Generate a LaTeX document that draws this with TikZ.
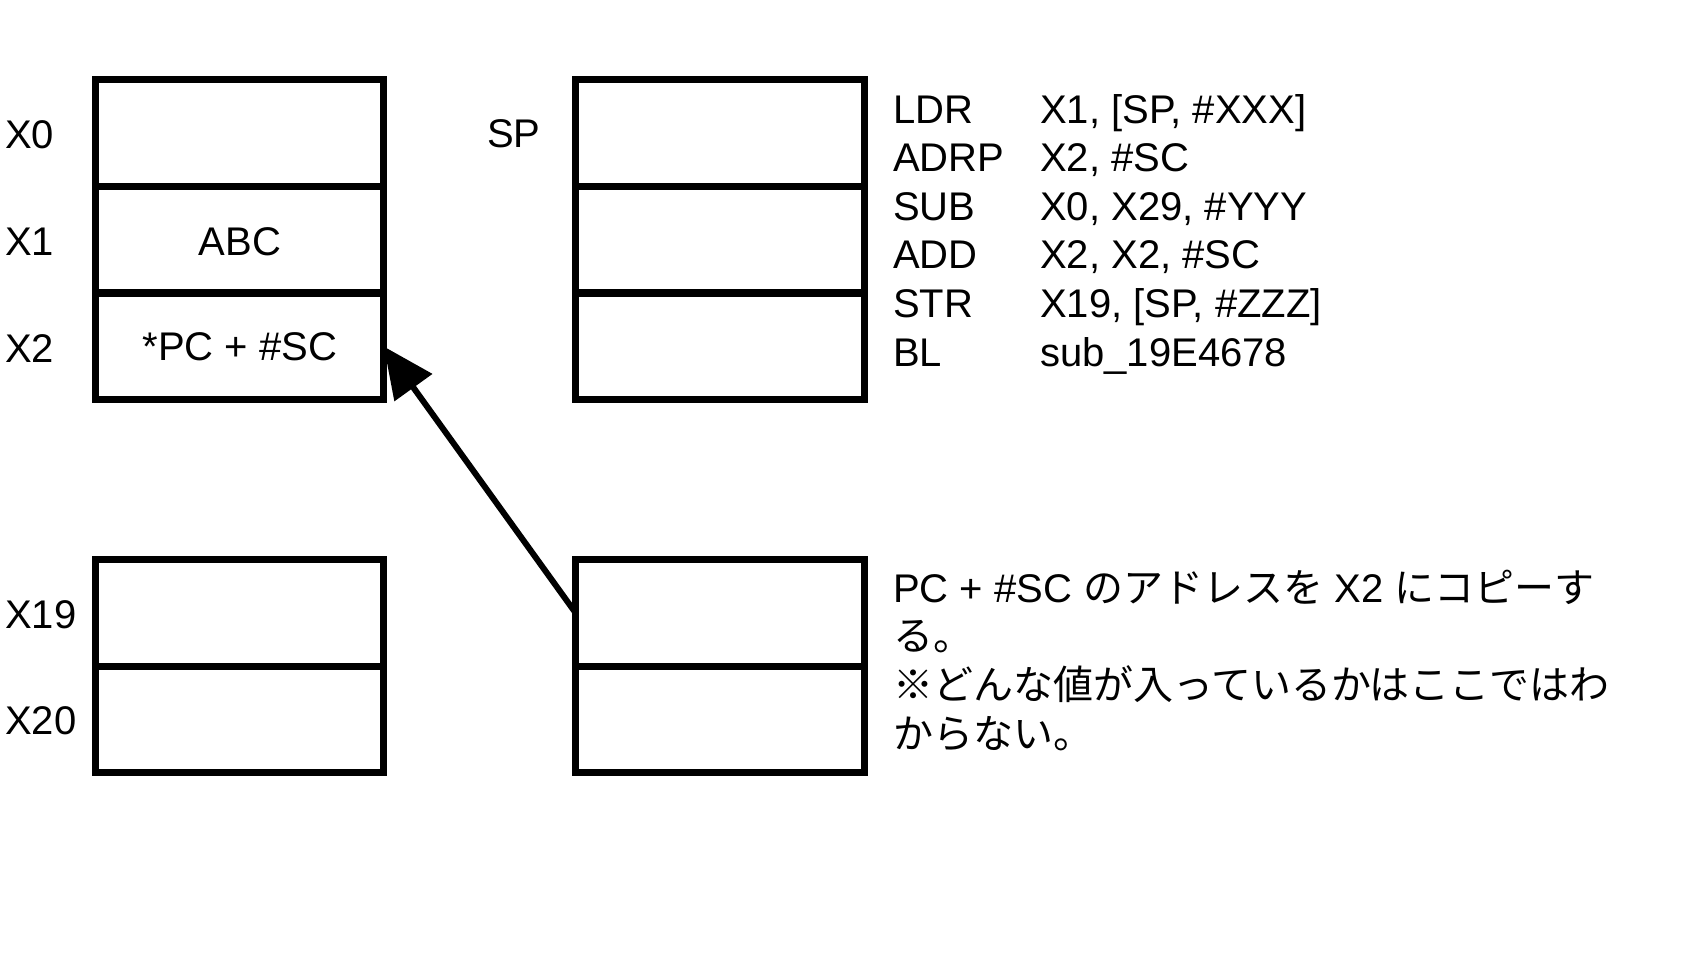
\documentclass[tikz,border=0pt]{standalone}
\usepackage{fontspec}
\setmainfont{Liberation Sans}
\newfontfamily\cjk{Noto Sans CJK JP}
\usetikzlibrary{arrows.meta}
\begin{document}
\begin{tikzpicture}[x=0.75pt,y=-0.75pt,
  cell/.style={draw=black,line width=5.25pt,minimum width=216.5pt,minimum height=80pt,inner sep=0pt,outer sep=0pt,font=\fontsize{30}{36}\selectfont},
  lbl/.style={anchor=base west,inner sep=0pt,font=\fontsize{30}{36}\selectfont},
  txt/.style={anchor=base west,inner sep=0pt,align=left,font=\fontsize{30}{36.5}\selectfont}]
\useasboundingbox (0,0) rectangle (1707,960);
% left register column
\node[cell] (x0) at (239.5,133) {};
\node[cell] (x1) at (239.5,239.5) {};
\node[cell] (x2) at (239.5,346.5) {};
\node[lbl,anchor=base] (abc) at (240,255) {ABC};
\node[lbl,anchor=base] (pcsc) at (240,360) {*PC + \#SC};
% SP column
\node[cell] (s0) at (720,133) {};
\node[cell] (s1) at (720,239.5) {};
\node[cell] (s2) at (720,346.5) {};
% bottom columns
\node[cell] (x19) at (239.5,613) {};
\node[cell] (x20) at (239.5,719.5) {};
\node[cell] (m0) at (720,613) {};
\node[cell] (m1) at (720,719.5) {};
% labels
\node[lbl] (lx0) at (5,148) {X0};
\node[lbl] (lx1) at (5,255) {X1};
\node[lbl] (lx2) at (5,362) {X2};
\node[lbl] (lsp) at (487,147) {SP};
\node[lbl] (lx19) at (5,628) {X19};
\node[lbl] (lx20) at (5,734) {X20};
% code
\node[lbl] (c1) at (893,123) {LDR};
\node[lbl] (c2) at (893,171.6) {ADRP};
\node[lbl] (c3) at (893,220.2) {SUB};
\node[lbl] (c4) at (893,268.8) {ADD};
\node[lbl] (c5) at (893,317.4) {STR};
\node[lbl] (c6) at (893,366) {BL};
\node[lbl] (o1) at (1040,123) {X1, [SP, \#XXX]};
\node[lbl] (o2) at (1040,171.6) {X2, \#SC};
\node[lbl] (o3) at (1040,220.2) {X0, X29, \#YYY};
\node[lbl] (o4) at (1040,268.8) {X2, X2, \#SC};
\node[lbl] (o5) at (1040,317.4) {X19, [SP, \#ZZZ]};
\node[lbl] (o6) at (1040,366) {sub\_19E4678};
% note (base anchor = baseline of last line)
\node[txt] (note) at (893,748) {PC + \#SC {\cjk のアドレスを} X2 {\cjk にコピーす}\\{\cjk る。}\\{\cjk ※どんな値が入っているかはここではわ}\\{\cjk からない。}};
% arrow
\draw[line width=4.5pt,-{Triangle[length=38pt,width=34pt]}] (m0.west) -- (x2.east);
\end{tikzpicture}
\end{document}
